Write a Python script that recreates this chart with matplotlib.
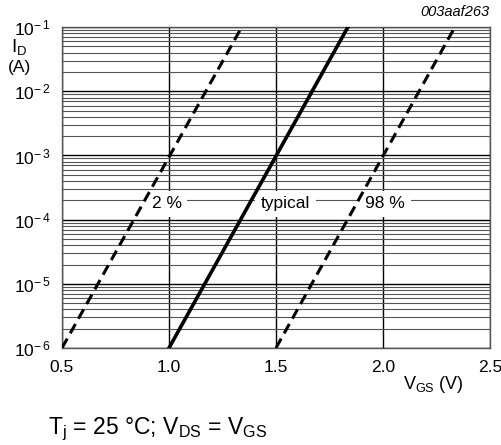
import matplotlib.pyplot as plt
from matplotlib.ticker import LogLocator, FixedLocator

plt.rcParams['font.family'] = ['Liberation Sans', 'DejaVu Sans']
plt.rcParams['mathtext.fontset'] = 'custom'
plt.rcParams['mathtext.rm'] = 'Liberation Sans'
plt.rcParams['mathtext.it'] = 'Liberation Sans:italic'

# transfer curves: end points of each straight line on the log scale
vgs_2pct = [0.5, 1.34]
vgs_typ = [1.0, 1.836]
vgs_98pct = [1.5, 2.336]
id_ends = [1e-6, 1e-1]

x_ticks = [0.5, 1.0, 1.5, 2.0, 2.5]
y_ticks = [1e-6, 1e-5, 1e-4, 1e-3, 1e-2, 1e-1]
y_labels = ['$10^{-\\,6}$', '$10^{-\\,5}$', '$10^{-\\,4}$', '$10^{-\\,3}$', '$10^{-\\,2}$', '$10^{-\\,1}$']

labels = ['2 %', 'typical', '98 %']
label_x = [0.99, 1.545, 2.01]
label_y = 1.78e-4

fig = plt.figure(figsize=(5.02, 4.45), dpi=100)
ax = fig.add_axes([0.1235, 0.218, 0.8525, 0.721])

ax.plot(vgs_2pct, id_ends, color='black', lw=2.2, dashes=(3.5, 2), zorder=3)
ax.plot(vgs_typ, id_ends, color='black', lw=2.6, zorder=3)
ax.plot(vgs_98pct, id_ends, color='black', lw=2.2, dashes=(3.5, 2), zorder=3)

ax.set_yscale('log')
ax.set_xlim(0.5, 2.5)
ax.set_ylim(1e-6, 1e-1)
ax.xaxis.set_major_locator(FixedLocator(x_ticks))
ax.set_xticklabels(['0.5', '1.0', '1.5', '2.0', '2.5'])
ax.yaxis.set_major_locator(FixedLocator(y_ticks))
ax.set_yticklabels(y_labels)
ax.yaxis.set_minor_locator(LogLocator(base=10, subs=range(2, 10)))
ax.tick_params(which='both', length=0, labelsize=12.5)
ax.tick_params(axis='x', pad=9)
ax.tick_params(axis='y', pad=8)

ax.set_axisbelow(True)
ax.grid(True, which='major', color='black', lw=1.0)
ax.grid(True, which='minor', axis='y', color='#555555', lw=0.8)
for s in ax.spines.values():
    s.set_color('#555555')
    s.set_linewidth(1.0)

for txt, lx in zip(labels, label_x):
    ax.text(lx, label_y, txt, ha='center', va='center', fontsize=12.5, zorder=2,
            bbox=dict(facecolor='white', edgecolor='none', pad=4))

fig.text(0.022, 0.895, '$\\mathrm{I_D}$', fontsize=13.5, ha='left', va='center')
fig.text(0.016, 0.848, '(A)', fontsize=12.5, ha='left', va='center')
fig.text(0.802, 0.135, '$\\mathrm{V_{GS}}$ (V)', fontsize=13, ha='left', va='center')
fig.text(0.976, 0.973, '003aaf263', fontsize=10.5, style='italic', ha='right', va='center')
fig.text(0.096, 0.035, '$\\mathrm{T_j}$ = 25 °C; $\\mathrm{V_{DS}}$ = $\\mathrm{V_{GS}}$',
         fontsize=16.5, ha='left', va='center')

fig.savefig('out.png', dpi=100)
